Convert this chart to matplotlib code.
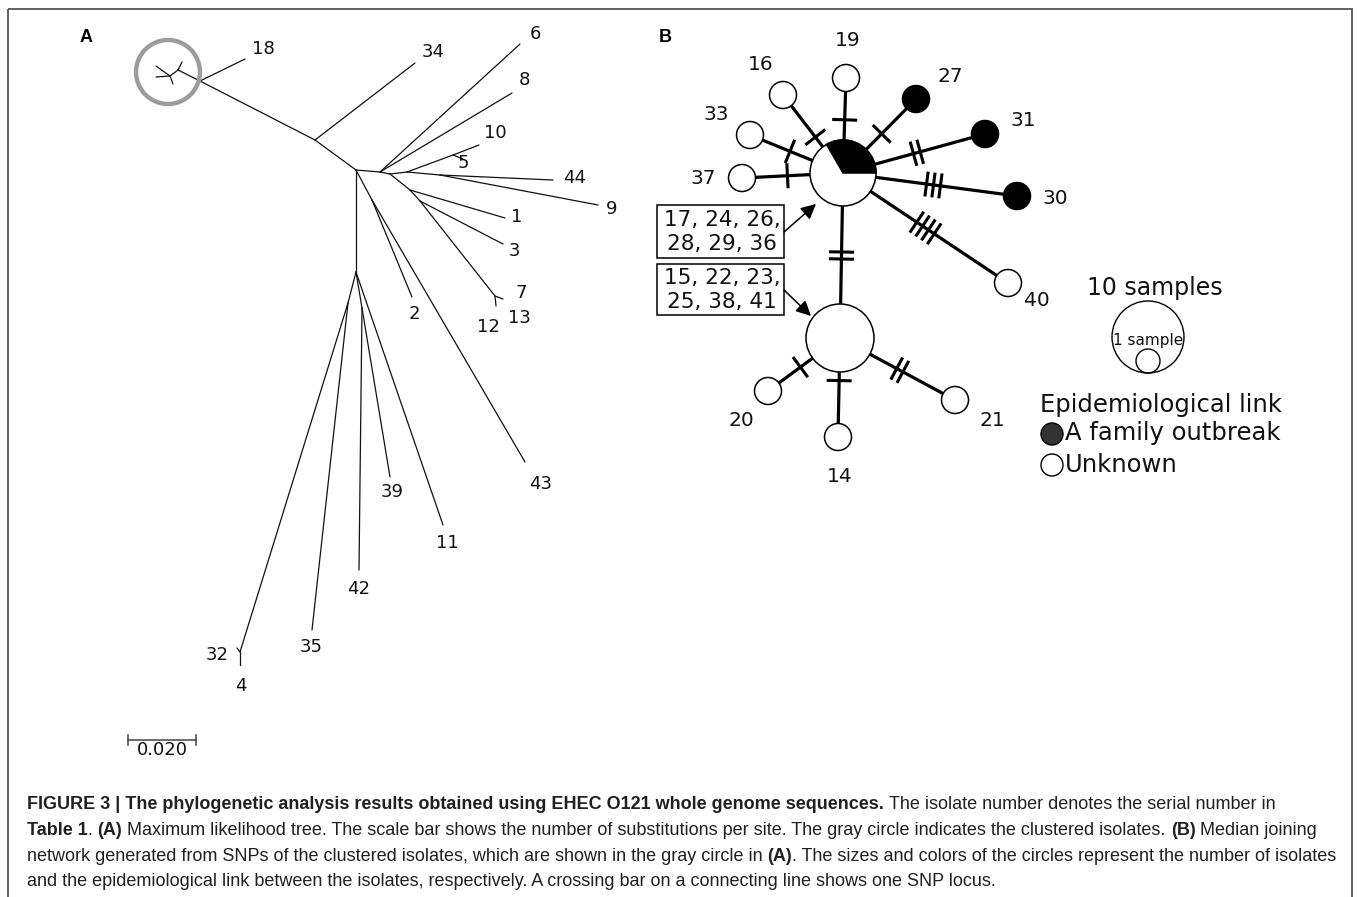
import matplotlib
matplotlib.use('Agg')
import matplotlib.pyplot as plt
from matplotlib.patches import Circle, Wedge, Rectangle
from matplotlib import font_manager
import numpy as np

# ---- panel A: tree layout (pixel coordinates of the drawn tree) ----
tree_nodes = {
    'r0': (170, 76), 'r1': (178, 70), 'b18': (200, 81), 'n34': (315, 140),
    'n1': (356, 170), 'n2': (380, 172), 'n3': (390, 174), 'n4': (407, 172),
    'n14': (453, 155), 'n5': (440, 175), 'n6': (410, 190), 'n7': (420, 201),
    'n8': (495, 296), 'n9': (372, 200), 'n10': (356, 272), 'n11': (348, 303),
    'n12': (362, 308), 'n13': (240, 652),
    'c1': (156, 66), 'c2': (156, 77), 'c3': (173, 84), 'c4': (182, 62),
    'L18': (245, 59), 'L34': (415, 63), 'L6': (520, 44), 'L8': (512, 93),
    'L10': (479, 145), 'L5': (463, 159), 'L44': (553, 180), 'L9': (598, 205),
    'L1': (505, 218), 'L3': (503, 244), 'L7': (503, 299), 'L13': (496, 306),
    'L2': (412, 297), 'L43': (525, 462), 'L4': (240, 665), 'L32': (237, 648),
    'L35': (312, 630), 'L42': (359, 570), 'L39': (390, 477), 'L11': (443, 525),
}
tree_edges = [
    ('r0', 'c1'), ('r0', 'c2'), ('r0', 'c3'), ('r0', 'r1'), ('r1', 'c4'),
    ('r1', 'b18'), ('b18', 'L18'), ('b18', 'n34'), ('n34', 'L34'), ('n34', 'n1'),
    ('n1', 'n2'), ('n2', 'L6'), ('n2', 'L8'), ('n2', 'n3'), ('n3', 'n4'),
    ('n4', 'n14'), ('n14', 'L10'), ('n14', 'L5'), ('n4', 'n5'), ('n5', 'L44'),
    ('n5', 'L9'), ('n3', 'n6'), ('n6', 'L1'), ('n6', 'n7'), ('n7', 'L3'),
    ('n7', 'n8'), ('n8', 'L7'), ('n8', 'L13'), ('n1', 'n9'), ('n9', 'L2'),
    ('n9', 'L43'), ('n1', 'n10'), ('n10', 'n11'), ('n11', 'n13'), ('n13', 'L4'),
    ('n13', 'L32'), ('n11', 'L35'), ('n10', 'n12'), ('n12', 'L42'),
    ('n12', 'L39'), ('n10', 'L11'),
]
tree_labels = ['18', '34', '6', '8', '10', '5', '44', '9', '1', '3', '7', '13',
               '12', '2', '43', '39', '11', '42', '35', '32', '4']
tree_lx = [263, 433, 535, 524, 495, 463, 575, 612, 517, 514, 521, 519,
           488, 414, 541, 392, 447, 359, 311, 217, 241]
tree_ly = [49, 52, 34, 80, 133, 163, 178, 209, 217, 251, 293, 318,
           327, 314, 484, 492, 543, 589, 647, 655, 686]

# ---- panel B: median joining network ----
hubs = {'H1': (843, 173, 33), 'H2': (840, 338, 34)}
hub1_outbreak_share = 1 / 3
net_ids = ['19', '16', '33', '37', '27', '31', '30', '40', '20', '14', '21']
net_hub = ['H1'] * 8 + ['H2'] * 3
net_x = [846, 783, 750, 742, 916, 985, 1017, 1008, 768, 838, 955]
net_y = [78, 95, 135, 178, 99, 134, 196, 283, 391, 437, 400]
net_outbreak = [0, 0, 0, 0, 1, 1, 1, 0, 0, 0, 0]
net_snps = [1, 1, 1, 1, 1, 2, 3, 4, 1, 1, 2]
net_bar_t = [0.56, 0.46, 0.57, 0.55, 0.53, 0.52, 0.52, 0.50, 0.55, 0.43, 0.52]
net_lx = [848, 761, 716, 703, 950, 1023, 1055, 1037, 741, 840, 992]
net_ly = [40, 64, 115, 178, 76, 121, 198, 301, 420, 476, 421]
hub_link_snps = 2
box1_ids = '17, 24, 26,\n28, 29, 36'
box2_ids = '15, 22, 23,\n25, 38, 41'

caption_lines = [
    [('FIGURE 3 | The phylogenetic analysis results obtained using EHEC O121 whole genome sequences.', 'bold', True),
     ('The isolate number denotes the serial number in', 'normal', True)],
    [('Table 1', 'bold', True), ('.', 'normal', False), ('(A)', 'bold', True),
     ('Maximum likelihood tree. The scale bar shows the number of substitutions per site. The gray circle indicates the clustered isolates.', 'normal', True),
     ('(B)', 'bold', True), ('Median joining', 'normal', True)],
    [('network generated from SNPs of the clustered isolates, which are shown in the gray circle in', 'normal', True),
     ('(A)', 'bold', True),
     ('. The sizes and colors of the circles represent the number of isolates', 'normal', False)],
    [('and the epidemiological link between the isolates, respectively. A crossing bar on a connecting line shows one SNP locus.', 'normal', True)],
]


def has_font(name):
    try:
        font_manager.findfont(name, fallback_to_default=False)
        return True
    except ValueError:
        return False


cap_family = 'Liberation Sans Narrow' if has_font('Liberation Sans Narrow') else 'Liberation Sans'

fig = plt.figure(figsize=(13.58, 8.97), dpi=100)
ax = fig.add_axes([0, 0, 1, 1])
ax.set_xlim(0, 1358)
ax.set_ylim(897, 0)
ax.axis('off')

# frame
ax.add_patch(Rectangle((8, 9), 1344, 900, fill=False, ec='#555555', lw=1.3, zorder=1))

# panel letters
ax.text(86, 38, 'A', fontsize=13, fontweight='bold', family='Liberation Sans', ha='center', va='center')
ax.text(665, 38, 'B', fontsize=13, fontweight='bold', family='Liberation Sans', ha='center', va='center')

# tree
for a, b in tree_edges:
    (x0, y0), (x1, y1) = tree_nodes[a], tree_nodes[b]
    ax.plot([x0, x1], [y0, y1], color='#111111', lw=0.9, solid_capstyle='round', zorder=2)
for s, x, y in zip(tree_labels, tree_lx, tree_ly):
    ax.text(x, y, s, fontsize=13, ha='center', va='center', color='#111111')
ax.add_patch(Circle((168, 72), 32, fill=False, ec='#9d9d9d', lw=3.2, zorder=3))

# scale bar
ax.plot([128, 196], [740, 740], color='#444444', lw=1.1)
ax.plot([128, 128], [735, 745], color='#444444', lw=1.1)
ax.plot([196, 196], [735, 745], color='#444444', lw=1.1)
ax.text(162, 750, '0.020', fontsize=13, ha='center', va='center', color='#111111')


# network
def draw_bars(p0, p1, t, k):
    p0, p1 = np.array(p0, float), np.array(p1, float)
    d = p1 - p0
    u = d / np.hypot(*d)
    n = np.array([-u[1], u[0]])
    mid = p0 + d * t
    for i in range(k):
        c = mid + (i - (k - 1) / 2) * 7 * u
        a, b = c - n * 11, c + n * 11
        ax.plot([a[0], b[0]], [a[1], b[1]], color='k', lw=2.2, zorder=4)


for hid, x, y, k, t in zip(net_hub, net_x, net_y, net_snps, net_bar_t):
    hx, hy, hr = hubs[hid]
    ax.plot([hx, x], [hy, y], color='k', lw=2.3, zorder=3)
    draw_bars((hx, hy), (x, y), t, k)

h1x, h1y, h1r = hubs['H1']
h2x, h2y, h2r = hubs['H2']
ax.plot([h1x, h2x], [h1y, h2y], color='k', lw=2.3, zorder=3)
draw_bars((h1x, h1y), (h2x, h2y), 0.5, hub_link_snps)

for x, y, ob in zip(net_x, net_y, net_outbreak):
    ax.add_patch(Circle((x, y), 13.5, fc='k' if ob else 'white', ec='k', lw=1.1, zorder=5))
for s, x, y in zip(net_ids, net_lx, net_ly):
    ax.text(x, y, s, fontsize=14.5, ha='center', va='center', color='#111111')

ax.add_patch(Circle((h1x, h1y), h1r, fc='white', ec='k', lw=1.1, zorder=5))
ax.add_patch(Wedge((h1x, h1y), h1r, -360 * hub1_outbreak_share, 0, fc='k', ec='k', lw=1.1, zorder=6))
ax.add_patch(Circle((h2x, h2y), h2r, fc='white', ec='k', lw=1.1, zorder=5))

# id boxes with arrows
ax.add_patch(Rectangle((657, 205), 127, 53, fill=False, ec='k', lw=1.1, zorder=4))
ax.add_patch(Rectangle((657, 264), 127, 51, fill=False, ec='k', lw=1.1, zorder=4))
ax.text(722, 232, box1_ids, fontsize=15.5, ha='center', va='center', linespacing=1.3, color='#111111')
ax.text(722, 290, box2_ids, fontsize=15.5, ha='center', va='center', linespacing=1.3, color='#111111')
ax.annotate('', xy=(816, 204), xytext=(784, 232),
            arrowprops=dict(arrowstyle='-|>,head_length=0.9,head_width=0.45', color='k', lw=1.1,
                            shrinkA=0, shrinkB=0), zorder=6)
ax.annotate('', xy=(811, 316), xytext=(784, 290),
            arrowprops=dict(arrowstyle='-|>,head_length=0.9,head_width=0.45', color='k', lw=1.1,
                            shrinkA=0, shrinkB=0), zorder=6)

# size legend
ax.text(1155, 288, '10 samples', fontsize=17, ha='center', va='center', color='#111111')
ax.add_patch(Circle((1148, 337), 36, fill=False, ec='k', lw=1.0))
ax.add_patch(Circle((1148, 361), 12, fill=False, ec='k', lw=1.0))
ax.text(1148, 340, '1 sample', fontsize=11, ha='center', va='center', color='#111111')

# colour legend
ax.text(1040, 405, 'Epidemiological link', fontsize=17.5, ha='left', va='center', color='#111111')
ax.add_patch(Circle((1052, 434), 11, fc='#333333', ec='k', lw=1.0))
ax.text(1065, 433, 'A family outbreak', fontsize=17.5, ha='left', va='center', color='#111111')
ax.add_patch(Circle((1052, 465), 11, fc='white', ec='k', lw=1.0))
ax.text(1065, 465, 'Unknown', fontsize=17.5, ha='left', va='center', color='#111111')

# caption with mixed bold/regular runs
renderer = fig.canvas.get_renderer()


def width_of(s, weight, size):
    t = ax.text(0, 0, s, family=cap_family, fontweight=weight, fontsize=size)
    w = t.get_window_extent(renderer).width
    t.remove()
    return w


def line_width(runs, size):
    sp = width_of('a a', 'normal', size) - width_of('aa', 'normal', size)
    w = 0
    for i, (s, wt, gap) in enumerate(runs):
        if i > 0 and gap:
            w += sp
        w += width_of(s, wt, size)
    return w


cap_size = 10 * 1310 / line_width(caption_lines[2], 10)
space_w = width_of('a a', 'normal', cap_size) - width_of('aa', 'normal', cap_size)
for runs, yb in zip(caption_lines, [809, 835, 861, 886]):
    x = 27
    for i, (s, wt, gap) in enumerate(runs):
        if i > 0 and gap:
            x += space_w
        t = ax.text(x, yb, s, family=cap_family, fontweight=wt, fontsize=cap_size,
                    ha='left', va='baseline', color='#231f20')
        x += t.get_window_extent(renderer).width

fig.savefig('out.png', dpi=100)
